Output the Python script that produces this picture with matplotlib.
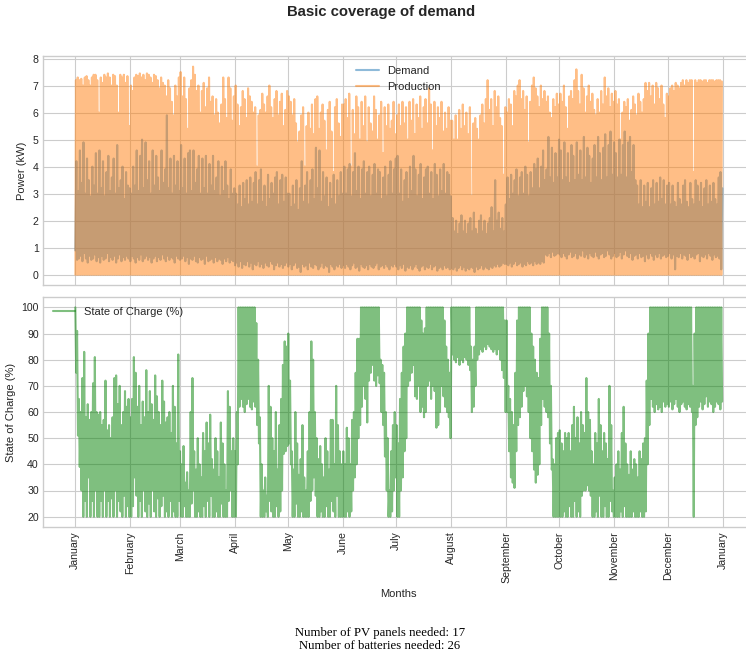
import numpy as np
import matplotlib
matplotlib.use("Agg")
import matplotlib.pyplot as plt
import matplotlib.dates as mdates

# --- Data: daily envelopes (kW and %) ---

YEAR_START = "2023-01-01"

prod_peak = [
    7.2, 7.3, 7.2, 7.25, 7.0, 7.3, 7.35, 7.2, 7.0, 7.3, 7.4, 7.4, 7.2, 6.0, 7.3, 7.1, 7.4, 7.3, 7.45, 7.3,
    7.0, 7.4, 7.35, 7.0, 6.0, 7.4, 7.3, 7.4, 7.1, 7.35, 5.5,
    7.0, 6.8, 7.3, 7.4, 7.35, 7.45, 7.3, 7.4, 7.2, 7.45, 7.4, 7.3, 7.1, 7.4, 7.35, 7.2, 6.9, 7.3, 7.1, 7.0,
    6.6, 7.2, 6.9, 6.4, 5.9, 7.0, 6.6, 7.3,
    7.5, 6.6, 7.3, 6.5, 5.4, 6.9, 7.2, 7.7, 7.4, 6.8, 7.0, 6.0, 6.8, 7.1, 6.2, 6.9, 7.3, 6.4, 6.6, 5.9,
    6.5, 6.0, 5.6, 6.3, 7.3, 6.5, 5.8, 7.3, 6.9, 5.7, 6.6,
    7.0, 6.3, 5.5, 6.2, 6.8, 6.5, 5.8, 6.9, 6.6, 6.4, 6.0, 6.2, 4.0, 5.9, 6.1, 6.7, 6.3, 6.0, 6.6, 7.0,
    6.2, 5.8, 6.5, 6.8, 5.9, 6.4, 6.7, 5.5, 6.1, 6.8,
    6.6, 6.4, 5.9, 6.5, 5.6, 4.9, 5.3, 5.9, 6.2, 4.0, 5.5, 6.0, 5.4, 6.3, 5.2, 6.5, 6.6, 5.4, 6.0, 6.3,
    5.7, 4.6, 6.1, 6.4, 5.3, 3.8, 6.2, 6.5, 5.6, 5.1, 6.3,
    6.3, 6.5, 5.8, 6.7, 4.0, 6.1, 5.2, 6.6, 6.2, 5.0, 6.4, 5.5, 6.6, 4.9, 6.2, 5.6, 5.3, 6.6, 6.1, 5.0,
    5.9, 6.4, 4.5, 6.2, 5.5, 6.3, 5.4, 5.7, 6.4, 5.2,
    5.9, 6.3, 5.5, 6.4, 5.6, 6.2, 5.0, 6.4, 5.7, 6.5, 5.2, 6.3, 5.8, 6.6, 5.4, 6.2, 6.5, 5.6, 6.9, 6.3,
    4.6, 6.4, 5.5, 6.2, 5.8, 6.4, 5.3, 6.0, 5.4, 6.2, 5.7,
    5.7, 5.0, 5.9, 5.0, 6.1, 5.4, 6.3, 5.5, 6.0, 5.2, 6.2, 2.9, 5.6, 5.8, 5.4, 5.0, 5.9, 6.3, 5.6, 6.5,
    7.2, 6.1, 6.5, 5.5, 6.8, 6.2, 6.6, 5.8, 5.5, 3.7, 6.2,
    6.0, 6.5, 6.3, 5.5, 6.8, 6.6, 7.0, 7.2, 6.5, 6.8, 6.1, 6.6, 4.9, 6.4, 7.0, 7.3, 6.9, 6.6, 6.2, 7.0,
    6.5, 6.8, 6.4, 6.6, 6.0, 5.8, 6.5, 6.2, 6.7, 6.3,
    6.7, 6.4, 7.0, 6.2, 5.4, 6.6, 6.8, 6.5, 7.2, 7.6, 6.8, 6.3, 7.4, 6.9, 6.0, 6.6, 7.0, 6.4, 6.7, 6.1,
    5.9, 6.5, 6.0, 6.8, 6.3, 7.3, 6.6, 6.9, 6.2, 6.7, 6.4,
    6.8, 6.3, 6.5, 5.0, 6.0, 6.4, 6.2, 6.5, 5.7, 6.1, 6.6, 6.3, 5.9, 6.7, 6.4, 6.0, 6.5, 7.1, 6.8, 7.1,
    6.6, 7.0, 6.3, 7.1, 6.9, 6.5, 7.0, 6.3, 5.8, 6.7,
    6.6, 6.9, 7.0, 6.8, 7.1, 7.0, 6.9, 7.1, 7.2, 7.0, 7.2, 7.1, 7.2, 7.2, 3.8, 7.2, 7.1, 7.2, 7.2, 7.15,
    7.2, 7.2, 7.1, 7.2, 7.2, 7.2, 7.15, 7.2, 7.2, 7.2, 7.15,
]

demand_peak = [
    4.2, 3.1, 4.6, 3.4, 4.9, 3.0, 4.3, 3.5, 2.9, 4.0, 3.3, 4.5, 3.0, 4.6, 3.2, 4.2, 2.9, 3.8, 4.4, 3.1,
    3.6, 4.3, 3.0, 4.8, 3.2, 3.5, 4.0, 2.8, 3.8, 3.3, 3.2,
    3.0, 4.0, 3.3, 4.6, 3.1, 4.4, 5.0, 3.2, 4.9, 3.5, 4.2, 3.0, 4.6, 3.3, 4.4, 3.6, 3.1, 4.6, 3.4, 3.9,
    5.9, 3.2, 4.3, 3.0, 4.4, 3.3, 4.2, 3.1,
    4.8, 3.2, 4.3, 3.0, 4.5, 4.6, 3.1, 4.6, 3.4, 3.9, 4.4, 3.0, 4.3, 3.2, 4.4, 3.0, 4.1, 3.3, 4.4, 3.1,
    3.6, 4.2, 2.9, 4.0, 3.1, 4.2, 3.3, 2.8, 3.9, 3.0, 3.2,
    3.0, 2.6, 3.3, 2.5, 3.4, 2.8, 3.5, 2.6, 3.6, 2.7, 3.4, 3.8, 2.6, 3.5, 3.9, 2.7, 3.3, 2.5, 3.7, 2.8,
    3.4, 3.0, 3.6, 3.8, 2.6, 3.5, 3.7, 2.7, 3.6, 3.0,
    3.0, 2.5, 3.3, 2.6, 3.5, 2.4, 3.2, 4.2, 2.7, 3.3, 3.8, 2.6, 3.5, 3.9, 2.8, 4.7, 3.2, 4.6, 2.7, 3.8,
    2.9, 3.6, 2.5, 3.4, 2.8, 3.7, 2.6, 3.5, 2.9, 3.8, 3.0,
    4.0, 3.0, 3.9, 4.1, 2.9, 3.8, 4.5, 3.1, 4.0, 2.8, 3.9, 4.2, 3.0, 3.8, 4.0, 2.9, 3.7, 4.1, 3.0, 3.9,
    3.8, 2.8, 3.6, 4.0, 2.9, 3.7, 4.2, 3.0, 3.9, 4.3,
    4.4, 3.0, 3.9, 2.7, 3.5, 3.8, 2.8, 4.0, 3.1, 4.4, 3.9, 2.9, 3.7, 4.1, 2.8, 3.6, 3.9, 4.0, 3.0, 3.8,
    2.8, 4.1, 3.7, 2.9, 3.9, 3.1, 4.1, 3.0, 3.8, 3.7, 2.9,
    2.1, 1.6, 2.0, 1.5, 1.9, 2.2, 1.6, 2.0, 1.5, 1.9, 2.1, 1.6, 2.3, 1.7, 1.5, 2.0, 2.2, 1.6, 2.0, 1.5,
    1.9, 2.1, 2.5, 1.6, 3.5, 2.0, 2.3, 1.7, 2.1, 1.6, 2.6,
    3.6, 2.8, 3.7, 3.0, 3.5, 3.9, 2.9, 3.6, 3.8, 3.0, 4.0, 3.7, 2.9, 3.8, 3.2, 4.1, 3.9, 4.3, 3.2, 4.0,
    4.6, 3.5, 3.9, 5.1, 3.6, 4.7, 3.4, 4.5, 3.6, 5.0,
    4.6, 3.5, 4.9, 3.6, 4.5, 3.4, 4.8, 4.4, 3.5, 4.9, 3.7, 4.6, 3.5, 5.1, 3.6, 4.7, 4.4, 3.4, 4.3, 4.8,
    3.6, 5.1, 4.5, 3.5, 4.7, 5.2, 3.6, 4.8, 5.3, 3.7, 4.9,
    4.5, 3.6, 5.0, 3.7, 4.8, 5.3, 3.6, 4.9, 5.1, 3.8, 4.8, 3.5, 3.3, 2.6, 3.5, 2.5, 3.3, 2.7, 3.4, 2.5,
    3.2, 3.5, 2.6, 3.4, 2.7, 3.6, 2.8, 3.5, 2.6, 3.3,
    3.4, 2.6, 3.3, 2.7, 2.5, 3.4, 2.8, 2.6, 3.3, 3.5, 2.7, 2.5, 3.4, 2.8, 2.6, 3.5, 3.3, 2.7, 3.4, 2.5,
    3.2, 3.5, 2.6, 3.3, 2.7, 3.4, 2.8, 2.6, 3.6, 3.8, 3.2,
]

demand_low = [
    0.9, 0.55, 0.6, 0.7, 0.5, 0.8, 0.6, 0.45, 0.7, 0.55, 0.6, 0.75, 0.5, 0.65, 0.45, 0.7, 0.55, 0.6, 0.8, 0.5,
    0.65, 0.55, 0.7, 0.45, 0.6, 0.75, 0.5, 0.65, 0.55, 0.7, 0.6,
    0.5, 0.7, 0.6, 0.45, 0.65, 0.55, 0.75, 0.5, 0.6, 0.7, 0.55, 0.65, 0.45, 0.6, 0.7, 0.5, 0.65, 0.55, 0.75, 0.6,
    0.5, 0.7, 0.55, 0.65, 0.6, 0.45, 0.7, 0.6,
    0.55, 0.6, 0.7, 0.5, 0.65, 0.4, 0.6, 0.55, 0.7, 0.5, 0.45, 0.65, 0.55, 0.6, 0.4, 0.7, 0.5, 0.55, 0.6, 0.45,
    0.65, 0.5, 0.6, 0.55, 0.4, 0.6, 0.5, 0.65, 0.45, 0.55, 0.5,
    0.35, 0.45, 0.3, 0.5, 0.25, 0.4, 0.35, 0.5, 0.3, 0.45, 0.2, 0.4, 0.35, 0.5, 0.3, 0.4, 0.25, 0.45, 0.35, 0.3,
    0.5, 0.4, 0.2, 0.35, 0.45, 0.3, 0.4, 0.25, 0.35, 0.45,
    0.3, 0.4, 0.2, 0.35, 0.45, 0.25, 0.3, 0.1, 0.4, 0.3, 0.35, 0.2, 0.45, 0.3, 0.25, 0.4, 0.35, 0.2, 0.3, 0.45,
    0.25, 0.35, 0.3, 0.1, 0.4, 0.3, 0.2, 0.35, 0.3, 0.4, 0.25,
    0.35, 0.25, 0.4, 0.3, 0.2, 0.35, 0.45, 0.25, 0.3, 0.15, 0.4, 0.3, 0.25, 0.35, 0.2, 0.4, 0.3, 0.25, 0.35, 0.45,
    0.2, 0.3, 0.35, 0.25, 0.4, 0.3, 0.2, 0.35, 0.3, 0.4,
    0.3, 0.2, 0.35, 0.25, 0.4, 0.15, 0.3, 0.25, 0.35, 0.2, 0.3, 0.4, 0.25, 0.15, 0.3, 0.35, 0.2, 0.3, 0.25, 0.4,
    0.2, 0.3, 0.35, 0.15, 0.25, 0.3, 0.2, 0.35, 0.25, 0.3, 0.2,
    0.25, 0.2, 0.3, 0.15, 0.25, 0.35, 0.2, 0.3, 0.15, 0.25, 0.2, 0.3, 0.25, 0.1, 0.3, 0.2, 0.25, 0.35, 0.2, 0.3,
    0.25, 0.2, 0.3, 0.25, 0.35, 0.3, 0.4, 0.3, 0.35, 0.45, 0.4,
    0.4, 0.35, 0.45, 0.3, 0.4, 0.5, 0.35, 0.4, 0.45, 0.3, 0.4, 0.35, 0.5, 0.4, 0.45, 0.35, 0.5, 0.4, 0.45, 0.4,
    0.5, 0.45, 0.75, 0.7, 0.8, 0.65, 0.85, 0.7, 0.75, 0.8,
    0.75, 0.65, 0.8, 0.7, 0.6, 0.75, 0.85, 0.65, 0.7, 0.8, 0.6, 0.75, 0.7, 0.9, 0.65, 0.75, 0.6, 0.8, 0.7, 0.65,
    0.85, 0.7, 0.6, 0.75, 0.8, 0.65, 0.7, 0.9, 0.75, 0.6, 0.7,
    0.8, 0.65, 0.7, 0.85, 0.6, 0.75, 0.9, 0.7, 0.65, 0.8, 0.55, 0.7, 0.75, 0.6, 0.8, 0.65, 0.7, 0.5, 0.75, 0.6,
    0.8, 0.7, 0.55, 0.75, 0.65, 0.8, 0.6, 0.7, 0.75, 0.65,
    0.7, 0.8, 0.6, 0.75, 0.2, 0.7, 0.65, 0.8, 0.6, 0.75, 0.7, 0.55, 0.8, 0.65, 0.7, 0.6, 0.75, 0.8, 0.5, 0.7,
    0.65, 0.75, 0.6, 0.8, 0.7, 0.55, 0.75, 0.65, 0.7, 0.6, 0.2,
]

soc_high = [
    100, 91, 65, 60, 73, 83, 58, 63, 57, 60, 71, 81, 60, 59, 60, 55, 57, 72, 53, 55,
    50, 58, 73, 74, 63, 70, 55, 60, 68, 62, 65,
    58, 65, 81, 75, 62, 70, 55, 64, 58, 76, 60, 68, 63, 57, 74, 66, 60, 55, 72, 64,
    56, 58, 60, 52, 70, 62, 48, 82,
    45, 40, 47, 33, 37, 30, 60, 73, 45, 38, 50, 40, 35, 52, 45, 56, 48, 59, 42, 38,
    50, 45, 35, 56, 48, 40, 30, 68, 62, 45, 50,
    45, 60, 100, 100, 100, 100, 100, 100, 100, 100, 100, 100, 94, 80, 58, 40, 30, 35, 28, 70,
    62, 50, 45, 60, 38, 55, 65, 78, 87, 85,
    90, 72, 45, 38, 60, 48, 36, 42, 55, 35, 30, 45, 60, 87, 80, 60, 50, 42, 47, 40,
    35, 50, 45, 38, 57, 57, 40, 70, 55, 45, 40,
    45, 40, 54, 50, 40, 57, 60, 75, 88, 88, 100, 100, 100, 100, 100, 100, 100, 100, 100, 100,
    100, 80, 78, 75, 60, 50, 30, 45, 55, 60,
    55, 48, 65, 75, 85, 90, 100, 100, 100, 100, 100, 100, 100, 100, 95, 90, 92, 100, 100, 100,
    100, 100, 100, 100, 100, 100, 100, 95, 85, 80, 75,
    100, 100, 100, 100, 100, 100, 100, 100, 100, 100, 100, 85, 80, 85, 100, 100, 100, 100, 100, 100,
    100, 100, 100, 100, 100, 100, 100, 100, 100, 100, 95,
    95, 70, 65, 60, 55, 75, 95, 100, 100, 100, 100, 100, 100, 100, 90, 85, 80, 75, 73, 88,
    100, 100, 100, 100, 90, 70, 42, 40, 50, 52,
    53, 48, 45, 52, 50, 52, 45, 55, 62, 50, 58, 48, 60, 55, 52, 73, 60, 57, 45, 40,
    52, 48, 65, 55, 45, 52, 48, 42, 70, 55, 30,
    35, 40, 45, 38, 52, 62, 48, 40, 36, 45, 38, 42, 40, 35, 45, 42, 48, 50, 72, 90,
    100, 100, 100, 100, 100, 100, 100, 100, 100, 100,
    100, 100, 100, 100, 100, 100, 100, 100, 100, 100, 100, 100, 100, 100, 70, 90, 100, 100, 100, 100,
    100, 100, 100, 100, 100, 100, 100, 100, 100, 100, 100,
]

soc_low = [
    75, 51, 39, 30, 20, 26, 20, 35, 20, 26, 20, 30, 20, 20, 26, 20, 30, 20, 26, 20,
    27, 20, 30, 20, 26, 22, 20, 28, 20, 24, 20,
    20, 24, 35, 28, 20, 26, 20, 30, 22, 20, 25, 20, 30, 22, 20, 27, 20, 24, 28, 20,
    22, 20, 26, 20, 22, 20, 20, 26,
    20, 20, 24, 20, 20, 20, 25, 30, 20, 20, 22, 20, 20, 24, 20, 26, 20, 28, 20, 20,
    22, 20, 20, 25, 20, 20, 20, 26, 30, 20, 20,
    20, 40, 62, 65, 62, 60, 63, 65, 62, 61, 64, 62, 55, 48, 20, 20, 20, 22, 20, 26,
    22, 20, 20, 24, 20, 22, 30, 44, 45, 47,
    48, 40, 20, 20, 25, 20, 20, 22, 20, 20, 20, 20, 26, 30, 35, 28, 20, 20, 22, 20,
    20, 24, 20, 20, 26, 22, 20, 28, 20, 20, 20,
    20, 20, 22, 20, 22, 30, 35, 40, 50, 55, 62, 70, 65, 56, 72, 75, 78, 72, 70, 74,
    71, 60, 55, 43, 30, 20, 20, 22, 30, 35,
    20, 20, 30, 35, 45, 50, 70, 72, 75, 78, 66, 65, 70, 60, 62, 58, 60, 70, 72, 65,
    70, 68, 54, 55, 60, 70, 66, 62, 60, 58, 50,
    82, 80, 79, 81, 78, 80, 79, 81, 80, 78, 76, 60, 62, 70, 80, 82, 84, 83, 85, 84,
    86, 85, 84, 83, 84, 82, 84, 80, 76, 73, 60,
    60, 45, 35, 33, 31, 45, 55, 58, 62, 68, 70, 66, 60, 50, 45, 38, 33, 36, 40, 55,
    65, 62, 60, 58, 48, 38, 20, 20, 20, 20,
    20, 20, 22, 20, 20, 24, 20, 20, 26, 20, 22, 20, 28, 30, 30, 32, 30, 28, 20, 20,
    22, 20, 28, 20, 20, 24, 20, 20, 26, 22, 20,
    20, 20, 20, 22, 20, 24, 20, 20, 20, 20, 22, 20, 20, 20, 22, 20, 20, 22, 40, 55,
    65, 62, 60, 63, 61, 62, 60, 64, 62, 63,
    62, 64, 61, 63, 65, 62, 60, 63, 64, 62, 61, 63, 62, 60, 20, 55, 58, 62, 64, 61,
    63, 66, 62, 64, 63, 60, 62, 64, 63, 61, 64,
]

n_pv_panels = 17
n_batteries = 26


def daily_trace(lows, highs, t_low, t_high):
    """Interleave each day's low and high at their time of day (fraction of a day)."""
    lows = np.asarray(lows, dtype=float)
    highs = np.asarray(highs, dtype=float)
    days = np.arange(min(lows.size, highs.size))
    t0 = mdates.date2num(np.datetime64(YEAR_START))
    if t_low < t_high:
        x = np.column_stack([days + t_low, days + t_high]).ravel()
        y = np.column_stack([lows[days], highs[days]]).ravel()
    else:
        x = np.column_stack([days + t_high, days + t_low]).ravel()
        y = np.column_stack([highs[days], lows[days]]).ravel()
    return t0 + x, y


plt.style.use("seaborn-v0_8-whitegrid")
plt.rcParams["font.family"] = "sans-serif"
plt.rcParams["font.sans-serif"] = ["Liberation Sans", "DejaVu Sans"]
plt.rcParams["text.color"] = "0.15"
plt.rcParams["axes.labelcolor"] = "0.15"
plt.rcParams["xtick.color"] = "0.15"
plt.rcParams["ytick.color"] = "0.15"

fig = plt.figure(figsize=(7.46, 6.54), dpi=100)
ax1 = fig.add_axes([0.0576, 0.564, 0.954, 0.350])
ax2 = fig.add_axes([0.0576, 0.194, 0.954, 0.352], sharex=ax1)

xd, yd = daily_trace(demand_low, demand_peak, 0.2, 0.8)
xp, yp = daily_trace(np.zeros(len(prod_peak)), prod_peak, 0.25, 0.55)
ax1.plot(xd, yd, color="tab:blue", alpha=0.5, lw=1.5, label="Demand")
ax1.plot(xp, yp, color="tab:orange", alpha=0.5, lw=1.5, label="Production")
ax1.set_ylabel("Power (kW)", fontsize=8)
ax1.legend(loc="upper center", fontsize=8, frameon=False)
ax1.tick_params(axis="x", labelbottom=False)

xs, ys = daily_trace(soc_low, soc_high, 0.7, 0.2)
ax2.plot(xs, ys, color="green", alpha=0.5, lw=1.5, label="State of Charge (%)")
ax2.set_ylabel("State of Charge (%)", fontsize=8)
ax2.set_xlabel("Months", fontsize=8)
ax2.legend(loc="upper left", fontsize=8, frameon=False)
ax2.set_yticks(np.arange(20, 101, 10))

ax2.xaxis.set_major_locator(mdates.MonthLocator())
ax2.xaxis.set_major_formatter(mdates.DateFormatter("%B"))
for ax in (ax1, ax2):
    ax.tick_params(labelsize=7.6, length=0, pad=3)
    for sp in ax.spines.values():
        sp.set_color("0.8")
plt.setp(ax2.get_xticklabels(), rotation=90, ha="center")

fig.text(0.511, 0.982, "Basic coverage of demand", ha="center", va="center",
         fontsize=10.7, fontweight="bold")
fig.text(0.509, 1 - 633 / 654, f"Number of PV panels needed: {n_pv_panels}",
         ha="center", va="center", family="Liberation Serif", fontsize=9.2, color="black")
fig.text(0.509, 1 - 646 / 654, f"Number of batteries needed: {n_batteries}",
         ha="center", va="center", family="Liberation Serif", fontsize=9.2, color="black")

fig.savefig("out.png", dpi=100)
